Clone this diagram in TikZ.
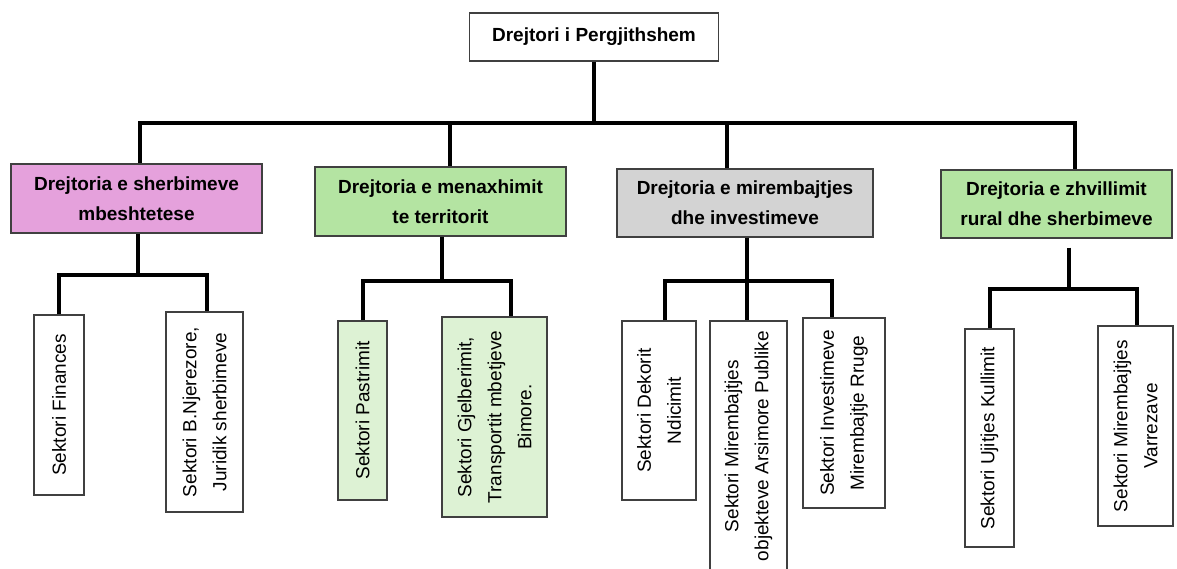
\documentclass[tikz,border=0pt]{standalone}
\usepackage{fontspec}
\setmainfont{Liberation Sans}
\usepackage{tikz}
\usetikzlibrary{calc, positioning}
\definecolor{supportpink}{HTML}{E5A1DC}
\definecolor{directgreen}{HTML}{B4E4A2}
\definecolor{directgray}{HTML}{D3D3D3}
\definecolor{sectorgreen}{HTML}{DDF2D4}
\tikzstyle{director} = [rectangle, draw=black!75, line width=1.2pt, align=center, inner sep=0pt, font=\fontsize{19}{30}\selectfont\bfseries]
\tikzstyle{sector} = [rectangle, draw=black!75, line width=1.2pt, rotate=90, align=center, inner sep=0pt, font=\fontsize{19}{30}\selectfont]
\tikzstyle{link} = [line width=4pt]

\begin{document}
\begin{tikzpicture}[x=1pt, y=-1pt]
	\fill [white] (0,0) rectangle (1177,569);
	\clip (0,0) rectangle (1177,569);
	\node (General) [director, minimum width=249pt, minimum height=48pt] at (594,37) {Drejtori i Pergjithshem};
	\node (DirSupport) [director, fill=supportpink, minimum width=251pt, minimum height=69pt] at (136.5,198.5) {Drejtoria e sherbimeve\\mbeshtetese};
	\node (DirTerritory) [director, fill=directgreen, minimum width=251pt, minimum height=69pt] at (440.5,201.5) {Drejtoria e menaxhimit\\te territorit};
	\node (DirMaint) [director, fill=directgray, minimum width=256pt, minimum height=68pt] at (745,203) {Drejtoria e mirembajtjes\\dhe investimeve};
	\node (DirRural) [director, fill=directgreen, minimum width=231pt, minimum height=68pt] at (1056.5,204) {Drejtoria e zhvillimit\\rural dhe sherbimeve};
	\node (SecFinances) [sector, minimum width=180pt, minimum height=50pt] at (59,405) {Sektori Finances};
	\node (SecNjerezore) [sector, minimum width=200pt, minimum height=77pt] at (204.5,412) {Sektori B.Njerezore,\\Juridik sherbimeve};
	\node (SecPastrimit) [sector, fill=sectorgreen, minimum width=179pt, minimum height=49pt] at (362.5,410.5) {Sektori Pastrimit};
	\node (SecGjelberimit) [sector, fill=sectorgreen, minimum width=200pt, minimum height=105pt] at (494.5,417) {Sektori Gjelberimit,\\Transportit mbetjeve\\Bimore.};
	\node (SecDekorit) [sector, minimum width=179pt, minimum height=74pt] at (659,410.5) {Sektori Dekorit\\Ndicimit};
	\node (SecObjekteve) [sector, minimum width=250pt, minimum height=77pt] at (748.5,446) {Sektori Mirembajtjes\\objekteve Arsimore Publike};
	\node (SecInvestimeve) [sector, minimum width=190pt, minimum height=82pt] at (844,413) {Sektori Investimeve\\Mirembajtje Rruge};
	\node (SecUjitjes) [sector, minimum width=218pt, minimum height=49pt] at (989.5,438) {Sektori Ujitjes Kullimit};
	\node (SecVarrezave) [sector, minimum width=200pt, minimum height=75pt] at (1135.5,426) {Sektori Mirembajtjes\\Varrezave};
	\draw [link] (General.south) -- ++(0,63);
	\draw [link] ([xshift=3.5pt]DirSupport.north) -- ++(0,-40) -| ([xshift=18.5pt]DirRural.north);
	\draw [link] ([xshift=9.5pt]DirTerritory.north) -- ++(0,-43);
	\draw [link] ([xshift=-18pt]DirMaint.north) -- ++(0,-45);
	\draw [link] ([xshift=1.5pt]DirSupport.south) -- ++(0,41) coordinate (JointSupport);
	\draw [link] (SecFinances.east) |- (JointSupport) -| ([xshift=2.5pt]SecNjerezore.east);
	\draw [link] ([xshift=1.5pt]DirTerritory.south) -- ++(0,44) coordinate (JointTerritory);
	\draw [link] (SecPastrimit.east) |- (JointTerritory) -| ([xshift=16.5pt]SecGjelberimit.east);
	\draw [link] ([xshift=2pt]DirMaint.south) -- ++(0,43) coordinate (JointMaint);
	\draw [link] ([xshift=6pt]SecDekorit.east) |- (JointMaint) -| ([xshift=-12pt]SecInvestimeve.east);
	\draw [link] (JointMaint) -- (JointMaint |- SecObjekteve.east);
	\draw [link, shorten <=9pt] ([xshift=12.5pt]DirRural.south) -- ++(0,50) coordinate (JointRural);
	\draw [link] (SecUjitjes.east) |- (JointRural) -| ([xshift=1.5pt]SecVarrezave.east);
\end{tikzpicture}
\end{document}
